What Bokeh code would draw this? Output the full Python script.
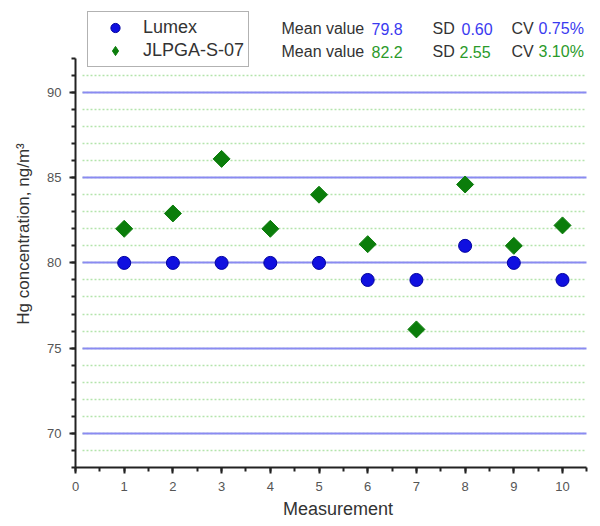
from bokeh.plotting import figure
from bokeh.models import (Range1d, SingleIntervalTicker, Legend, LegendItem, Label,
                          ColumnDataSource)
from bokeh.embed import file_html
from bokeh.resources import INLINE
import math

# ---- data ----
measurement = [1, 2, 3, 4, 5, 6, 7, 8, 9, 10]
lumex = [80, 80, 80, 80, 80, 79, 79, 81, 80, 79]
jlpga = [82.0, 82.9, 86.1, 82.0, 84.0, 81.1, 76.1, 84.6, 81.0, 82.2]
series_names = ["Lumex", "JLPGA-S-07"]
stats_rows = [
    ("79.8", "0.60", "0.75%"),
    ("82.2", "2.55", "3.10%"),
]

FONT = "Liberation Sans"
BLUE = "#1010e0"
GREEN = "#0b7d0b"
BLUE_TXT = "#3a3af0"
GREEN_TXT = "#2a9a2a"

p = figure(width=600, height=526, output_backend="svg", toolbar_location=None,
           x_range=Range1d(0, 10.78), y_range=Range1d(68, 95.39),
           min_border_left=75, min_border_right=0, min_border_top=0, min_border_bottom=59)
p.outline_line_color = None
p.background_fill_color = "white"

# axes
p.xaxis.ticker = SingleIntervalTicker(interval=1, num_minor_ticks=2)
p.yaxis.ticker = SingleIntervalTicker(interval=5, num_minor_ticks=5)
p.xaxis.bounds = (0, 10.5)
p.yaxis.bounds = (68, 92)
for ax in (p.xaxis, p.yaxis):
    ax.axis_line_width = 2
    ax.axis_line_color = "#222222"
    ax.major_tick_line_color = "#222222"
    ax.minor_tick_line_color = "#222222"
    ax.major_tick_line_width = 2
    ax.minor_tick_line_width = 2
    ax.major_tick_in = 0
    ax.major_tick_out = 6
    ax.minor_tick_in = 0
    ax.minor_tick_out = 4
    ax.major_label_text_font = FONT
    ax.major_label_text_font_size = "13px"
    ax.major_label_text_color = "#555555"
    ax.axis_label_text_font = FONT
    ax.axis_label_text_font_style = "normal"
    ax.axis_label_text_color = "#333333"
p.xaxis.axis_label_text_font_size = "18px"
p.yaxis.axis_label_text_font_size = "17px"
p.xaxis.major_label_standoff = 8
p.yaxis.major_label_standoff = 8
p.xaxis.axis_label = "Measurement"
p.yaxis.axis_label = "Hg concentration, ng/m³"
p.xaxis.axis_label_standoff = 5
p.yaxis.axis_label_standoff = 11

# grids
p.xgrid.grid_line_color = None
p.ygrid.grid_line_color = "#8a8af2"
p.ygrid.grid_line_width = 2
p.ygrid.minor_grid_line_color = "#b4e4ac"
p.ygrid.minor_grid_line_dash = "2 2"
p.ygrid.minor_grid_line_width = 1.5
p.ygrid.bounds = (68, 91.5)
try:
    p.ygrid.cross_bounds = (0.15, 10.5)
except Exception:
    pass

src = ColumnDataSource(dict(x=measurement, lumex=lumex, jlpga=jlpga))
r1 = p.scatter("x", "lumex", source=src, marker="circle", size=13,
               fill_color=BLUE, line_color="#0000a0", line_width=1)
r2 = p.scatter("x", "jlpga", source=src, marker="square", angle=math.pi / 4, size=12,
               fill_color=GREEN, line_color=GREEN)
# hidden renderer used only for the legend swatch (diamond shape)
r2_leg = p.scatter("x", "jlpga", source=src, marker="diamond", size=12,
                   fill_color=GREEN, line_color=GREEN, visible=False)

legend = Legend(items=[LegendItem(label=series_names[0], renderers=[r1]),
                       LegendItem(label=series_names[1], renderers=[r2_leg])],
                location=(12, 400), border_line_color="#666666", border_line_width=1,
                label_text_font=FONT, label_text_font_size="18px",
                label_text_color="#333333", padding=4, spacing=0,
                label_height=23, glyph_height=23, glyph_width=46,
                label_standoff=5, margin=0, background_fill_alpha=1,
                inactive_fill_alpha=0)
p.add_layout(legend, "center")

# statistics text
row_y = [439, 416]
row_colors = [BLUE_TXT, GREEN_TXT]
for i, ((mean, sd, cv), yy, col) in enumerate(zip(stats_rows, row_y, row_colors)):
    sd_x = 386 if i == 0 else 384
    parts = [("Mean value", 206, "#333333"), (mean, 296, col),
             ("SD", 357, "#333333"), (sd, sd_x, col),
             ("CV", 436, "#333333"), (cv, 463, col)]
    for txt, xx, c in parts:
        p.add_layout(Label(x=xx, y=yy, x_units="screen", y_units="screen", text=txt,
                           text_font=FONT, text_font_size="16px", text_color=c,
                           text_baseline="middle"))

open("out.html", "w").write(file_html(p, INLINE))
